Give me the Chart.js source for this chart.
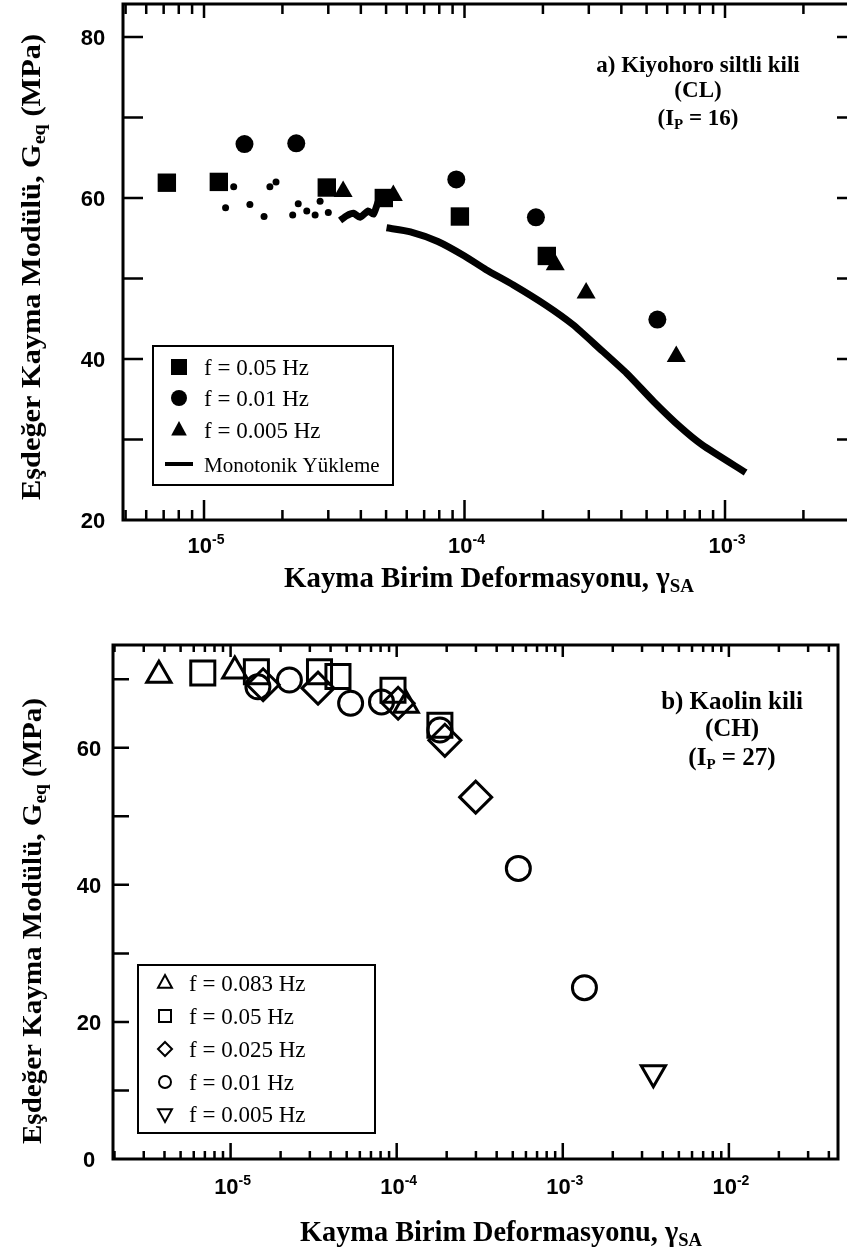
<!DOCTYPE html>
<html>
<head>
<meta charset="utf-8">
<script src="https://cdn.jsdelivr.net/npm/chart.js@4.4.0/dist/chart.umd.min.js"></script>
<style>
  html, body { margin: 0; padding: 0; background: #fff; overflow: hidden; width: 847px; height: 1249px; }
  .panel { position: absolute; left: 0; }
  #wrapA { top: 0; }
  #wrapB { top: 620px; }
</style>
</head>
<body>
<div class="panel" id="wrapA"><canvas id="chartA" width="860" height="620"></canvas></div>
<div class="panel" id="wrapB"><canvas id="chartB" width="860" height="629"></canvas></div>
<script>
// ---- panel a) Kiyohoro siltli kili ----
const aSquareX = [7.2e-6, 1.14e-5, 2.96e-5, 4.9e-5, 9.6e-5, 2.07e-4];
const aSquareY = [61.9, 62.0, 61.3, 60.0, 57.7, 52.8];
const aCircleX = [1.43e-5, 2.26e-5, 9.3e-5, 1.88e-4, 5.5e-4];
const aCircleY = [66.7, 66.8, 62.3, 57.6, 44.9];
const aTriX = [3.42e-5, 5.33e-5, 2.23e-4, 2.93e-4, 6.5e-4];
const aTriY = [60.8, 60.3, 51.7, 48.2, 40.3];
// monotonic loading: scattered small-strain readings, then the continuous trace
const aDotX = [1.21e-5, 1.30e-5, 1.50e-5, 1.70e-5, 1.79e-5, 1.89e-5, 2.19e-5, 2.30e-5, 2.48e-5, 2.67e-5, 2.79e-5, 3.0e-5];
const aDotY = [58.8, 61.4, 59.2, 57.7, 61.4, 62.0, 57.9, 59.3, 58.4, 57.9, 59.6, 58.2];
const aWiggleX = [3.33e-5, 3.53e-5, 3.75e-5, 3.97e-5, 4.27e-5, 4.47e-5, 4.67e-5, 4.87e-5];
const aWiggleY = [57.2, 57.8, 58.1, 57.6, 58.4, 58.0, 59.6, 60.5];
const aMonoX = [5.02e-5, 6.2e-5, 7.9e-5, 1.0e-4, 1.21e-4, 1.54e-4, 2.05e-4, 2.6e-4, 3.3e-4, 4.2e-4, 5.33e-4, 6.76e-4, 8.2e-4, 1.2e-3];
const aMonoY = [56.3, 55.8, 54.6, 52.8, 51.1, 49.2, 46.7, 44.3, 41.3, 38.2, 34.7, 31.5, 29.3, 25.9];

// ---- panel b) Kaolin kili ----
const bTriUpX = [3.7e-6, 1.06e-5, 1.14e-4];
const bTriUpY = [70.6, 71.2, 66.2];
const bSquareX = [6.8e-6, 1.43e-5, 3.43e-5, 4.43e-5, 9.5e-5, 1.82e-4];
const bSquareY = [70.9, 71.1, 71.1, 70.4, 68.4, 63.3];
const bDiamondX = [1.57e-5, 3.36e-5, 1.02e-4, 1.95e-4, 2.99e-4];
const bDiamondY = [69.2, 68.7, 66.5, 61.1, 52.8];
const bCircleX = [1.46e-5, 2.26e-5, 5.28e-5, 8.1e-5, 1.82e-4, 5.4e-4, 1.35e-3];
const bCircleY = [68.9, 69.9, 66.5, 66.7, 62.6, 42.4, 25.0];
const bTriDownX = [3.51e-3];
const bTriDownY = [12.6];

// tick labels
const aDecades = [-5, -4, -3];
const aYLabels = [20, 40, 60, 80];
const bDecades = [-5, -4, -3, -2];
const bYLabels = [0, 20, 40, 60];

const SERIF = '"Liberation Serif", "Times New Roman", serif';
const SANS = '"Liberation Sans", Arial, sans-serif';

function pts(xs, ys) {
    return xs.map((x, i) => ({ x: x, y: ys[i] }));
}

// measure / draw text made of several runs (sub- and superscripts)
function richWidth(ctx, parts) {
    let w = 0;
    parts.forEach(p => { ctx.font = p.font; w += ctx.measureText(p.text).width; });
    return w;
}

function drawRich(ctx, parts, x, y, align, fitWidth, rotate) {
    const w = richWidth(ctx, parts);
    const sx = fitWidth ? fitWidth / w : 1;
    ctx.save();
    ctx.translate(x, y);
    if (rotate) ctx.rotate(rotate);
    ctx.scale(sx, 1);
    let cx = align === 'center' ? -w / 2 : align === 'right' ? -w : 0;
    ctx.textAlign = 'left';
    ctx.textBaseline = 'alphabetic';
    parts.forEach(p => {
        ctx.font = p.font;
        ctx.fillText(p.text, cx, p.dy || 0);
        cx += ctx.measureText(p.text).width;
    });
    ctx.restore();
}

// legend sample markers
function drawMarker(ctx, style, x, y, r, filled, lw) {
    ctx.save();
    ctx.lineWidth = lw || 2;
    ctx.beginPath();
    if (style === 'rect') {
        ctx.rect(x - r, y - r, 2 * r, 2 * r);
    } else if (style === 'circle') {
        ctx.arc(x, y, r, 0, Math.PI * 2);
    } else if (style === 'triangle') {
        ctx.moveTo(x, y - r);
        ctx.lineTo(x + r * 0.87, y + r * 0.6);
        ctx.lineTo(x - r * 0.87, y + r * 0.6);
        ctx.closePath();
    } else if (style === 'triDown') {
        ctx.moveTo(x, y + r);
        ctx.lineTo(x + r * 0.87, y - r * 0.6);
        ctx.lineTo(x - r * 0.87, y - r * 0.6);
        ctx.closePath();
    } else if (style === 'diamond') {
        ctx.moveTo(x, y - r);
        ctx.lineTo(x + r, y);
        ctx.lineTo(x, y + r);
        ctx.lineTo(x - r, y);
        ctx.closePath();
    } else if (style === 'line') {
        ctx.moveTo(x - 14, y);
        ctx.lineTo(x + 14, y);
        ctx.lineWidth = 4;
        ctx.stroke();
        ctx.restore();
        return;
    }
    if (filled) ctx.fill(); else ctx.stroke();
    ctx.restore();
}

// frame, inward ticks, labels, titles, legend and note
const paperAxes = {
    id: 'paperAxes',
    afterDraw(chart, args, o) {
        const ctx = chart.ctx;
        const a = chart.chartArea;
        const xs = chart.scales.x;
        const ys = chart.scales.y;
        ctx.save();
        ctx.strokeStyle = '#000';
        ctx.fillStyle = '#000';

        ctx.lineWidth = o.frameWidth;
        ctx.strokeRect(a.left, a.top, a.right - a.left, a.bottom - a.top);

        ctx.lineWidth = o.tickWidth;
        ctx.beginPath();
        const d0 = Math.floor(Math.log10(xs.min));
        const d1 = Math.ceil(Math.log10(xs.max));
        for (let d = d0; d <= d1; d++) {
            for (let m = 1; m <= 9; m++) {
                const v = m * Math.pow(10, d);
                if (v <= xs.min || v >= xs.max) continue;
                const px = xs.getPixelForValue(v);
                const major = m === 1;
                ctx.moveTo(px, a.bottom);
                ctx.lineTo(px, a.bottom - (major ? o.bottomMajor : o.bottomMinor));
                ctx.moveTo(px, a.top);
                ctx.lineTo(px, a.top + (major ? o.topMajor : o.topMinor));
            }
        }
        for (let v = o.yTickStart; v < ys.max; v += 10) {
            if (v <= ys.min) continue;
            const py = ys.getPixelForValue(v);
            ctx.moveTo(a.left, py);
            ctx.lineTo(a.left + o.leftTick, py);
            if (o.rightTick) {
                ctx.moveTo(a.right, py);
                ctx.lineTo(a.right - o.rightTick, py);
            }
        }
        ctx.stroke();

        // tick labels
        o.decades.forEach(d => {
            const px = xs.getPixelForValue(Math.pow(10, d));
            drawRich(ctx, [
                { text: '10', font: 'bold 22px ' + SANS },
                { text: String(d), font: 'bold 14px ' + SANS, dy: -9 }
            ], px + 2, o.xLabelY, 'center');
        });
        ctx.font = 'bold 22px ' + SANS;
        ctx.textAlign = 'center';
        ctx.textBaseline = 'alphabetic';
        o.yLabels.forEach(v => {
            ctx.fillText(String(v), o.yLabelX, ys.getPixelForValue(v) + 8);
        });

        // axis titles
        drawRich(ctx, [
            { text: 'Kayma Birim Deformasyonu, γ', font: 'bold 29px ' + SERIF },
            { text: 'SA', font: 'bold 19px ' + SERIF, dy: 5 }
        ], o.xTitle.x, o.xTitle.y, 'center', o.xTitle.width);
        drawRich(ctx, [
            { text: 'Eşdeğer Kayma Modülü, G', font: 'bold 27px ' + SERIF },
            { text: 'eq', font: 'bold 18px ' + SERIF, dy: 5 },
            { text: ' (MPa)', font: 'bold 27px ' + SERIF }
        ], o.yTitle.x, o.yTitle.y, 'center', o.yTitle.width, -Math.PI / 2);

        // legend box
        const lg = o.legend;
        ctx.fillStyle = '#fff';
        ctx.fillRect(lg.box[0], lg.box[1], lg.box[2] - lg.box[0], lg.box[3] - lg.box[1]);
        ctx.fillStyle = '#000';
        ctx.lineWidth = 2;
        ctx.strokeRect(lg.box[0], lg.box[1], lg.box[2] - lg.box[0], lg.box[3] - lg.box[1]);
        lg.items.forEach(it => {
            drawMarker(ctx, it.style, lg.markerX, it.y, it.r, it.filled, 2);
            ctx.font = it.font;
            ctx.textAlign = 'left';
            ctx.fillText(it.text, lg.textX, it.y + 8);
        });

        // note in the upper right
        o.note.lines.forEach(l => {
            drawRich(ctx, l.parts, o.note.x, l.y, 'center');
        });
        ctx.restore();
    }
};

Chart.register(paperAxes);

const noteFontA = 'bold 23px ' + SERIF;
const noteFontB = 'bold 25px ' + SERIF;
const noteSub = 'bold 15px ' + SERIF;
const legFont = '23px ' + SERIF;

function filled(label, xs, ys, style, r) {
    return {
        label: label,
        data: pts(xs, ys),
        pointStyle: style,
        pointRadius: r,
        pointBackgroundColor: '#000',
        pointBorderColor: '#000',
        pointBorderWidth: 0,
        showLine: false
    };
}

function open(label, xs, ys, style, r, rotation) {
    return {
        label: label,
        data: pts(xs, ys),
        pointStyle: style,
        pointRadius: r,
        pointRotation: rotation || 0,
        pointBackgroundColor: 'rgba(0,0,0,0)',
        pointBorderColor: '#000',
        pointBorderWidth: 3,
        showLine: false
    };
}

function traceLine(xs, ys) {
    return {
        label: '',
        data: pts(xs, ys),
        showLine: true,
        borderColor: '#000',
        borderWidth: 7,
        pointRadius: 0,
        tension: 0.2
    };
}

// Initialize panel a)
const chartA = new Chart(document.getElementById('chartA'), {
    type: 'scatter',
    data: {
        datasets: [
            traceLine(aWiggleX, aWiggleY),
            traceLine(aMonoX, aMonoY),
            filled('', aDotX, aDotY, 'circle', 3.5),
            filled('f = 0.05 Hz', aSquareX, aSquareY, 'rect', 13),
            filled('f = 0.01 Hz', aCircleX, aCircleY, 'circle', 9),
            filled('f = 0.005 Hz', aTriX, aTriY, 'triangle', 11)
        ]
    },
    options: {
        responsive: false,
        animation: false,
        devicePixelRatio: 1,
        layout: { autoPadding: false, padding: { left: 123, top: 4, right: 11, bottom: 100 } },
        scales: {
            x: { type: 'logarithmic', min: Math.pow(10, -5.311), max: Math.pow(10, -2.524), display: false },
            y: { type: 'linear', min: 20, max: 84.1, display: false }
        },
        plugins: {
            legend: { display: false },
            tooltip: { enabled: false },
            paperAxes: {
                frameWidth: 3, tickWidth: 2.5,
                bottomMajor: 20, bottomMinor: 10, topMajor: 14, topMinor: 10,
                leftTick: 20, rightTick: 12, yTickStart: 20,
                decades: aDecades, yLabels: aYLabels,
                xLabelY: 553, yLabelX: 93,
                xTitle: { x: 489, y: 587, width: 410 },
                yTitle: { x: 40, y: 267, width: 466 },
                legend: {
                    box: [153, 346, 393, 485], markerX: 179, textX: 204,
                    items: [
                        { style: 'rect', r: 8, filled: true, text: 'f = 0.05 Hz', y: 367, font: legFont },
                        { style: 'circle', r: 8, filled: true, text: 'f = 0.01 Hz', y: 398, font: legFont },
                        { style: 'triangle', r: 9, filled: true, text: 'f = 0.005 Hz', y: 430, font: legFont },
                        { style: 'line', r: 0, filled: false, text: 'Monotonik Yükleme', y: 464, font: '21px ' + SERIF }
                    ]
                },
                note: {
                    x: 698,
                    lines: [
                        { y: 72, parts: [{ text: 'a) Kiyohoro siltli kili', font: noteFontA }] },
                        { y: 97, parts: [{ text: '(CL)', font: noteFontA }] },
                        { y: 125, parts: [{ text: '(I', font: noteFontA }, { text: 'P', font: noteSub, dy: 4 }, { text: ' = 16)', font: noteFontA }] }
                    ]
                }
            }
        }
    }
});

// Initialize panel b)
const chartB = new Chart(document.getElementById('chartB'), {
    type: 'scatter',
    data: {
        datasets: [
            open('f = 0.083 Hz', bTriUpX, bTriUpY, 'triangle', 14),
            open('f = 0.05 Hz', bSquareX, bSquareY, 'rect', 17),
            open('f = 0.025 Hz', bDiamondX, bDiamondY, 'rectRot', 16),
            open('f = 0.01 Hz', bCircleX, bCircleY, 'circle', 12),
            open('f = 0.005 Hz', bTriDownX, bTriDownY, 'triangle', 14, 180)
        ]
    },
    options: {
        responsive: false,
        animation: false,
        devicePixelRatio: 1,
        layout: { autoPadding: false, padding: { left: 113, top: 25, right: 22, bottom: 90 } },
        scales: {
            x: { type: 'logarithmic', min: Math.pow(10, -5.708), max: Math.pow(10, -1.343), display: false },
            y: { type: 'linear', min: 0, max: 75, display: false }
        },
        plugins: {
            legend: { display: false },
            tooltip: { enabled: false },
            paperAxes: {
                frameWidth: 3, tickWidth: 2.5,
                bottomMajor: 16, bottomMinor: 8, topMajor: 12, topMinor: 7,
                leftTick: 16, rightTick: 0, yTickStart: 0,
                decades: bDecades, yLabels: bYLabels,
                xLabelY: 574, yLabelX: 89,
                xTitle: { x: 501, y: 621, width: 402 },
                yTitle: { x: 41, y: 301, width: 446 },
                legend: {
                    box: [138, 345, 375, 513], markerX: 165, textX: 189,
                    items: [
                        { style: 'triangle', r: 8, filled: false, text: 'f = 0.083 Hz', y: 363, font: legFont },
                        { style: 'rect', r: 6, filled: false, text: 'f = 0.05 Hz', y: 396, font: legFont },
                        { style: 'diamond', r: 7, filled: false, text: 'f = 0.025 Hz', y: 429, font: legFont },
                        { style: 'circle', r: 6, filled: false, text: 'f = 0.01 Hz', y: 462, font: legFont },
                        { style: 'triDown', r: 8, filled: false, text: 'f = 0.005 Hz', y: 494, font: legFont }
                    ]
                },
                note: {
                    x: 732,
                    lines: [
                        { y: 89, parts: [{ text: 'b) Kaolin kili', font: noteFontB }] },
                        { y: 116, parts: [{ text: '(CH)', font: noteFontB }] },
                        { y: 145, parts: [{ text: '(I', font: noteFontB }, { text: 'P', font: noteSub, dy: 4 }, { text: ' = 27)', font: noteFontB }] }
                    ]
                }
            }
        }
    }
});
</script>
</body>
</html>
